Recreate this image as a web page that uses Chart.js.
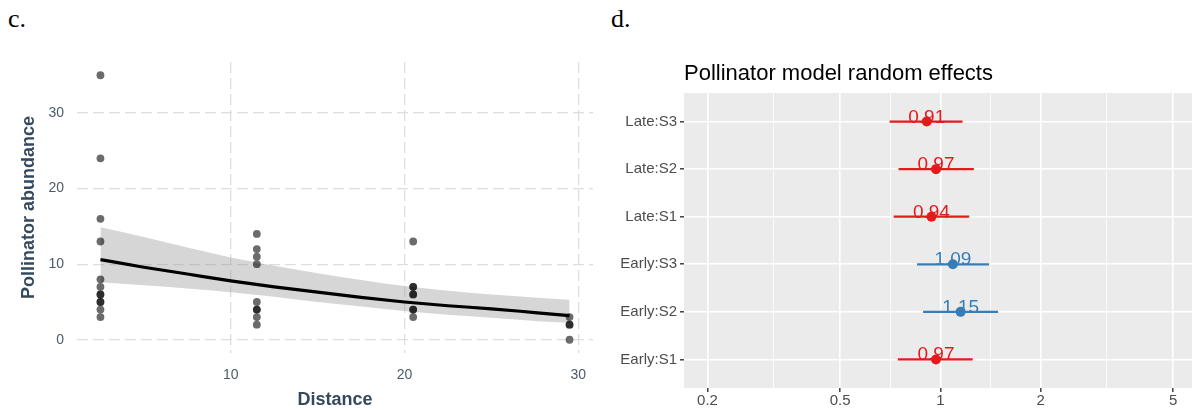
<!DOCTYPE html>
<html>
<head>
<meta charset="utf-8">
<script src="https://cdn.jsdelivr.net/npm/chart.js@4.4.1/dist/chart.umd.min.js"></script>
<style>
  body { margin: 0; background: #fff; width: 1192px; height: 412px; position: relative; overflow: hidden; }
  .panel { position: absolute; top: 0; height: 412px; }
  .tag { position: absolute; top: 6px; font: 26px/26px "Liberation Serif", "Times New Roman", serif; color: #000; }
</style>
</head>
<body>
<div class="tag" style="left:8px">c.</div>
<div class="tag" style="left:611px">d.</div>
<div class="panel" style="left:0;width:600px"><canvas id="abund"></canvas></div>
<div class="panel" style="left:600px;width:598px"><canvas id="forest"></canvas></div>
<script>
// panel c: raw counts per site distance
var siteDistance = [2.5, 11.5, 20.5, 29.5];
var siteCounts = [
    [35, 24, 16, 13, 8, 7, 6, 6, 5, 5, 4, 3],
    [14, 12, 11, 10, 5, 4, 4, 3, 2],
    [13, 7, 7, 6, 6, 4, 4, 3],
    [3, 2, 2, 0]
];
// fitted curve + confidence band
var fitX     = [2.5, 5, 7.5, 10, 12.5, 15, 17.5, 20, 22.5, 25, 27.5, 29.5];
var fitY     = [10.6, 9.6, 8.7, 7.8, 7.0, 6.3, 5.6, 5.0, 4.5, 4.1, 3.6, 3.2];
var fitUpper = [14.9, 13.6, 12.2, 10.9, 9.8, 8.8, 7.9, 7.1, 6.5, 6.0, 5.6, 5.3];
var fitLower = [7.6, 7.2, 6.8, 6.3, 5.7, 5.0, 4.4, 3.8, 3.3, 2.9, 2.5, 2.25];
var distTicks = [10, 20, 30];
var abundTicks = [0, 10, 20, 30];

// panel d: random effects (bottom to top)
var reLabels = ['Early:S1', 'Early:S2', 'Early:S3', 'Late:S1', 'Late:S2', 'Late:S3'];
var reEst    = [0.97, 1.15, 1.09, 0.94, 0.97, 0.91];
var reLow    = [0.745, 0.887, 0.851, 0.724, 0.749, 0.704];
var reHigh   = [1.25, 1.49, 1.40, 1.22, 1.26, 1.165];
var logMajor = [0.2, 0.5, 1, 2, 5];

var RED = '#E41A1C', BLUE = '#377EB8';

Chart.defaults.font.family = '"Liberation Sans", Arial, sans-serif';
Chart.defaults.animation = false;

function xy(xs, ys) {
    return xs.map(function (x, i) { return { x: x, y: ys[i] }; });
}
// keep the plot area where the layout puts it, no room for edge labels
function noEdgePad(s) { s.paddingLeft = 0; s.paddingRight = 0; s.paddingTop = 0; s.paddingBottom = 0; }

var pts = [];
siteCounts.forEach(function (counts, i) {
    counts.forEach(function (c) { pts.push({ x: siteDistance[i], y: c }); });
});

var slate = '#34495e';
var dashGrid = { color: '#dedede', lineWidth: 1.3, drawTicks: false };

new Chart(document.getElementById('abund'), {
    type: 'scatter',
    data: {
        datasets: [
            { data: pts, pointRadius: 3.9, pointBackgroundColor: 'rgba(0,0,0,0.58)', pointBorderWidth: 0 },
            { data: xy(fitX, fitY), showLine: true, borderColor: '#000', borderWidth: 3.2, pointRadius: 0, cubicInterpolationMode: 'monotone' },
            { data: xy(fitX, fitUpper), showLine: true, borderWidth: 0, pointRadius: 0, backgroundColor: 'rgba(153,153,153,0.4)', fill: '+1', cubicInterpolationMode: 'monotone' },
            { data: xy(fitX, fitLower), showLine: true, borderWidth: 0, pointRadius: 0, fill: false, cubicInterpolationMode: 'monotone' }
        ]
    },
    options: {
        responsive: true,
        maintainAspectRatio: false,
        layout: { padding: { left: 0, right: 7, top: 62, bottom: 0 } },
        plugins: { legend: { display: false }, tooltip: { enabled: false } },
        scales: {
            x: {
                type: 'linear', min: 1.15, max: 30.85,
                afterBuildTicks: function (s) { s.ticks = distTicks.map(function (v) { return { value: v }; }); },
                afterFit: function (s) { s.height = 59; noEdgePad(s); },
                grid: dashGrid,
                border: { display: false, dash: [11, 5] },
                ticks: { color: '#4d5b69', font: { size: 14 }, padding: 14 },
                title: { display: true, text: 'Distance', color: slate, font: { size: 18, weight: 'bold' }, padding: { top: 0, bottom: 1 } }
            },
            y: {
                type: 'linear', min: -1.75, max: 36.75,
                afterBuildTicks: function (s) { s.ticks = abundTicks.map(function (v) { return { value: v }; }); },
                afterFit: function (s) { s.width = 77; noEdgePad(s); },
                grid: dashGrid,
                border: { display: false, dash: [11, 5] },
                ticks: { color: '#4d5b69', font: { size: 14 }, padding: 13 },
                title: { display: true, text: 'Pollinator abundance', color: slate, font: { size: 18, weight: 'bold' }, padding: { top: 18, bottom: 0 } }
            }
        }
    }
});

// forest plot
function groupColor(v) { return v < 1 ? RED : BLUE; }

var forestSets = reLabels.map(function (lab, i) {
    return {
        type: 'line',
        data: [{ x: reLow[i], y: i + 1 }, { x: reHigh[i], y: i + 1 }],
        borderColor: groupColor(reEst[i]), borderWidth: 2.2, pointRadius: 0, fill: false
    };
});
forestSets.unshift({
    type: 'scatter',
    data: reEst.map(function (v, i) { return { x: v, y: i + 1 }; }),
    pointRadius: 5, pointBorderWidth: 0,
    pointBackgroundColor: reEst.map(groupColor)
});

var minorTicks = [];
for (var k = 0; k < logMajor.length - 1; k++) minorTicks.push(Math.sqrt(logMajor[k] * logMajor[k + 1]));
function isMajor(v) { return logMajor.some(function (m) { return Math.abs(m - v) < 1e-9; }); }

var panelBg = {
    id: 'panelBg',
    beforeDraw: function (chart) {
        var a = chart.chartArea, ctx = chart.ctx;
        ctx.save();
        ctx.fillStyle = '#ebebeb';
        ctx.fillRect(a.left, a.top, a.right - a.left, a.bottom - a.top);
        ctx.fillStyle = '#000';
        ctx.font = '22px "Liberation Sans", Arial, sans-serif';
        ctx.textBaseline = 'alphabetic';
        ctx.fillText('Pollinator model random effects', a.left, 80);
        ctx.restore();
    }
};

var valueText = {
    id: 'valueText',
    afterDatasetsDraw: function (chart) {
        var meta = chart.getDatasetMeta(0), ctx = chart.ctx;
        ctx.save();
        ctx.font = '19px "Liberation Sans", Arial, sans-serif';
        ctx.textAlign = 'center';
        ctx.textBaseline = 'alphabetic';
        meta.data.forEach(function (p, i) {
            ctx.fillStyle = groupColor(reEst[i]);
            ctx.fillText(reEst[i].toFixed(2), p.x, p.y + 1);
        });
        ctx.restore();
    }
};

new Chart(document.getElementById('forest'), {
    type: 'scatter',
    data: { datasets: forestSets },
    plugins: [panelBg, valueText],
    options: {
        responsive: true,
        maintainAspectRatio: false,
        layout: { padding: { left: 0, right: 0, top: 93, bottom: 0 } },
        plugins: { legend: { display: false }, tooltip: { enabled: false } },
        scales: {
            x: {
                type: 'logarithmic', min: 0.17, max: 5.73,
                afterBuildTicks: function (s) {
                    s.ticks = logMajor.concat(minorTicks).sort(function (a, b) { return a - b; })
                        .map(function (v) { return { value: v }; });
                },
                afterFit: function (s) { s.height = 24; noEdgePad(s); },
                grid: {
                    color: '#fff',
                    lineWidth: function (c) { return c.tick && isMajor(c.tick.value) ? 1.6 : 0.8; },
                    tickColor: function (c) { return c.tick && isMajor(c.tick.value) ? '#333' : 'rgba(0,0,0,0)'; },
                    tickLength: 4, tickWidth: 1.4
                },
                border: { display: false },
                ticks: {
                    autoSkip: false, maxRotation: 0, color: '#4d4d4d', font: { size: 15 }, padding: 0,
                    callback: function (v) { return isMajor(v) ? String(v) : ''; }
                }
            },
            y: {
                type: 'linear', min: 0.4, max: 6.6,
                afterBuildTicks: function (s) { s.ticks = reLabels.map(function (l, i) { return { value: i + 1 }; }); },
                afterFit: function (s) { s.width = 84; noEdgePad(s); },
                grid: { color: '#fff', lineWidth: 1.6, tickColor: '#333', tickLength: 4, tickWidth: 1.4 },
                border: { display: false },
                ticks: {
                    color: '#4d4d4d', font: { size: 15 }, padding: 3,
                    callback: function (v) { return reLabels[v - 1]; }
                }
            }
        }
    }
});
</script>
</body>
</html>
